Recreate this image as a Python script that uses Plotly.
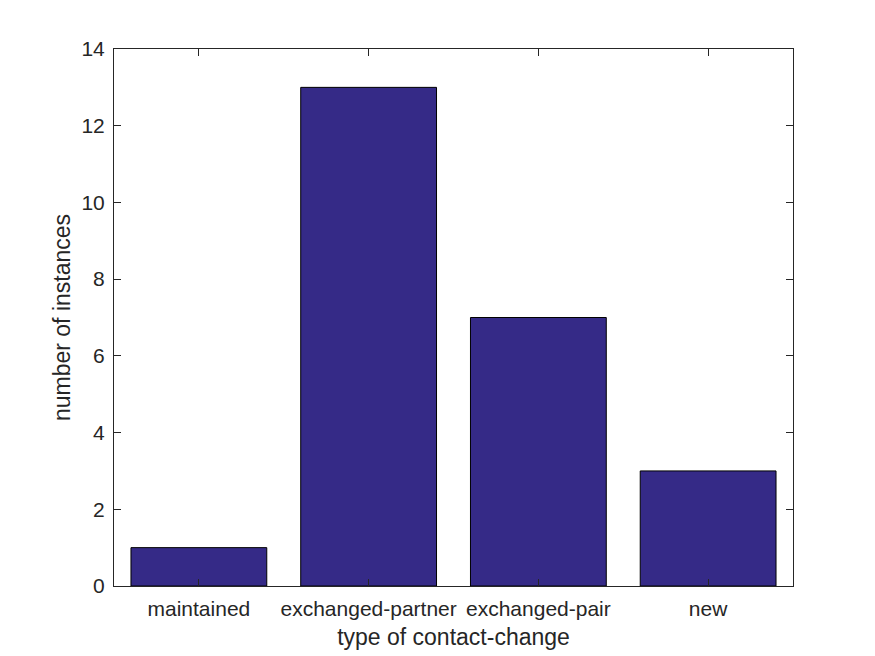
import plotly.graph_objects as go

categories = ["maintained", "exchanged-partner", "exchanged-pair", "new"]
counts = [1, 13, 7, 3]
y_ticks = [0, 2, 4, 6, 8, 10, 12, 14]

fig = go.Figure()
fig.add_trace(go.Bar(
    x=list(range(1, len(categories) + 1)),
    y=counts,
    width=0.8,
    marker=dict(color="#352a87", line=dict(color="#000000", width=1)),
))

font = dict(family="Liberation Sans, Arial, sans-serif", color="#262626")
fig.update_layout(
    width=875, height=656,
    margin=dict(l=106, r=90, t=41, b=78, autoexpand=False),
    paper_bgcolor="white", plot_bgcolor="white",
    showlegend=False,
    font=dict(**font, size=21),
    xaxis=dict(
        range=[0.5, 4.5],
        tickmode="array",
        tickvals=list(range(1, len(categories) + 1)),
        ticktext=categories,
        ticks="inside", ticklen=7, tickwidth=1, tickcolor="#262626",
        showline=True, linecolor="#262626", linewidth=1, mirror="ticks",
        showgrid=False, zeroline=False,
        tickfont=dict(size=21),
        ticklabelstandoff=4,
        title=dict(text="type of contact-change", font=dict(size=23), standoff=9),
    ),
    yaxis=dict(
        range=[0, 14],
        tickmode="array", tickvals=y_ticks,
        ticks="inside", ticklen=7, tickwidth=1, tickcolor="#262626",
        showline=True, linecolor="#262626", linewidth=1, mirror="ticks",
        showgrid=False, zeroline=False,
        tickfont=dict(size=21),
        ticklabelstandoff=4,
        title=dict(text="number of instances", font=dict(size=23), standoff=4),
    ),
)

fig.write_html("out.html")
